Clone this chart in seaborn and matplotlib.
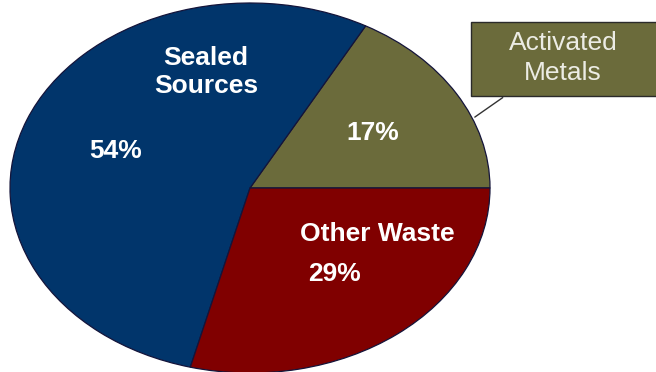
import matplotlib
matplotlib.use("Agg")
import matplotlib.pyplot as plt
import matplotlib.patches as mpatches
import numpy as np
import seaborn as sns

# waste categories, counterclockwise from 3 o'clock
categories = ["Activated\nMetals", "Sealed\nSources", "Other Waste"]
shares = [17, 54, 29]
colors = ["#6b6b3b", "#01356b", "#800000"]

sns.set_theme(style="white")
plt.rcParams["font.family"] = ["Liberation Sans", "DejaVu Sans"]

W, H = 656, 372
fig = plt.figure(figsize=(W / 100, H / 100), dpi=100)
ax = fig.add_axes([0, 0, 1, 1])

wedges, _ = ax.pie(shares, colors=colors, startangle=0, counterclock=True,
                   wedgeprops=dict(edgecolor="#14143a", linewidth=0.9))

# stretch the pie into an ellipse like the original (center 250,188 px; rx 240, ry 185)
cx, cy, rx, ry = 250, 188, 240, 185
ax.set_aspect("auto")
ax.set_xlim(-cx / rx, (W - cx) / rx)
ax.set_ylim(-(H - cy) / ry, cy / ry)
ax.axis("off")


def fpos(px, py):
    return px / W, 1 - py / H


txt = dict(color="white", fontsize=19, fontweight="bold", ha="center",
           va="center", transform=fig.transFigure, linespacing=1.25)
fig.text(*fpos(206, 72), categories[1], **txt)
fig.text(*fpos(116, 151), f"{shares[1]}%", **txt)
fig.text(*fpos(373, 133), f"{shares[0]}%", **txt)
fig.text(*fpos(377, 234), categories[2], **txt)
fig.text(*fpos(335, 274), f"{shares[2]}%", **txt)

# callout box for activated metals
box = mpatches.Rectangle(fpos(471, 96), (W + 10 - 471) / W, (96 - 22) / H,
                         transform=fig.transFigure, facecolor=colors[0],
                         edgecolor="#2a2a2a", linewidth=1.0, clip_on=False)
fig.patches.append(box)
fig.text(*fpos(563, 58), categories[0], color="#ecece4", fontsize=19,
         ha="center", va="center", transform=fig.transFigure, linespacing=1.3)

theta = np.deg2rad(22)
ax.annotate("", xy=(np.cos(theta), np.sin(theta)),
            xytext=fpos(505, 96), textcoords="figure fraction",
            arrowprops=dict(arrowstyle="-", color="#333333", lw=1.0))

fig.savefig("out.png", dpi=100, facecolor="white")
